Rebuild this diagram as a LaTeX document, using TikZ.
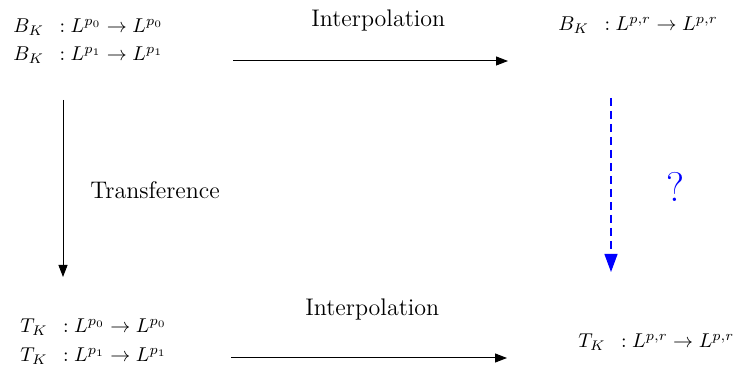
\documentclass[tikz,border=0pt]{standalone}
\usetikzlibrary{arrows.meta}
\begin{document}
\begin{tikzpicture}[x=0.5pt,y=-0.5pt,
  mathlbl/.style={anchor=base west,inner sep=0pt,font=\normalsize},
  wordlbl/.style={anchor=base west,inner sep=0pt,font=\large},
  conn/.style={line width=0.5pt,-{Triangle[length=6pt,width=4.5pt]}},
  qconn/.style={draw=blue,line width=0.6pt,dash pattern=on 4pt off 2.5pt,-{Triangle[length=9pt,width=6.5pt,fill=blue]}}]
\useasboundingbox (0,0) rectangle (734,379);
% top left
\node[mathlbl] (bl1) at (13,33) {$B_K\enspace : L^{p_0} \to L^{p_0}$};
\node[mathlbl] (bl2) at (13,61) {$B_K\enspace : L^{p_1} \to L^{p_1}$};
% top right
\node[mathlbl] (br) at (558,31) {$B_K\enspace : L^{p,r} \to L^{p,r}$};
% bottom left
\node[mathlbl] (tl1) at (20,333) {$T_K\enspace : L^{p_0} \to L^{p_0}$};
\node[mathlbl] (tl2) at (20,362) {$T_K\enspace : L^{p_1} \to L^{p_1}$};
% bottom right
\node[mathlbl] (tr) at (578,348) {$T_K\enspace : L^{p,r} \to L^{p,r}$};
% labels
\node[wordlbl] (int1) at (311,27) {Interpolation};
\node[wordlbl] (int2) at (305,316) {Interpolation};
\node[wordlbl] (trans) at (90,199) {Transference};
\node[text=blue,font=\huge,inner sep=0pt] (q) at (675,187) {?};
% connectors
\coordinate (a1) at (233,61);
\coordinate (a2) at (508,61);
\coordinate (b1) at (231,358);
\coordinate (b2) at (507,358);
\coordinate (c1) at (63,100);
\coordinate (c2) at (63,277);
\coordinate (d1) at (611,98);
\coordinate (d2) at (611,272);
\draw[conn] (a1) -- (a2);
\draw[conn] (b1) -- (b2);
\draw[conn] (c1) -- (c2);
\draw[qconn] (d1) -- (d2);
\end{tikzpicture}
\end{document}
